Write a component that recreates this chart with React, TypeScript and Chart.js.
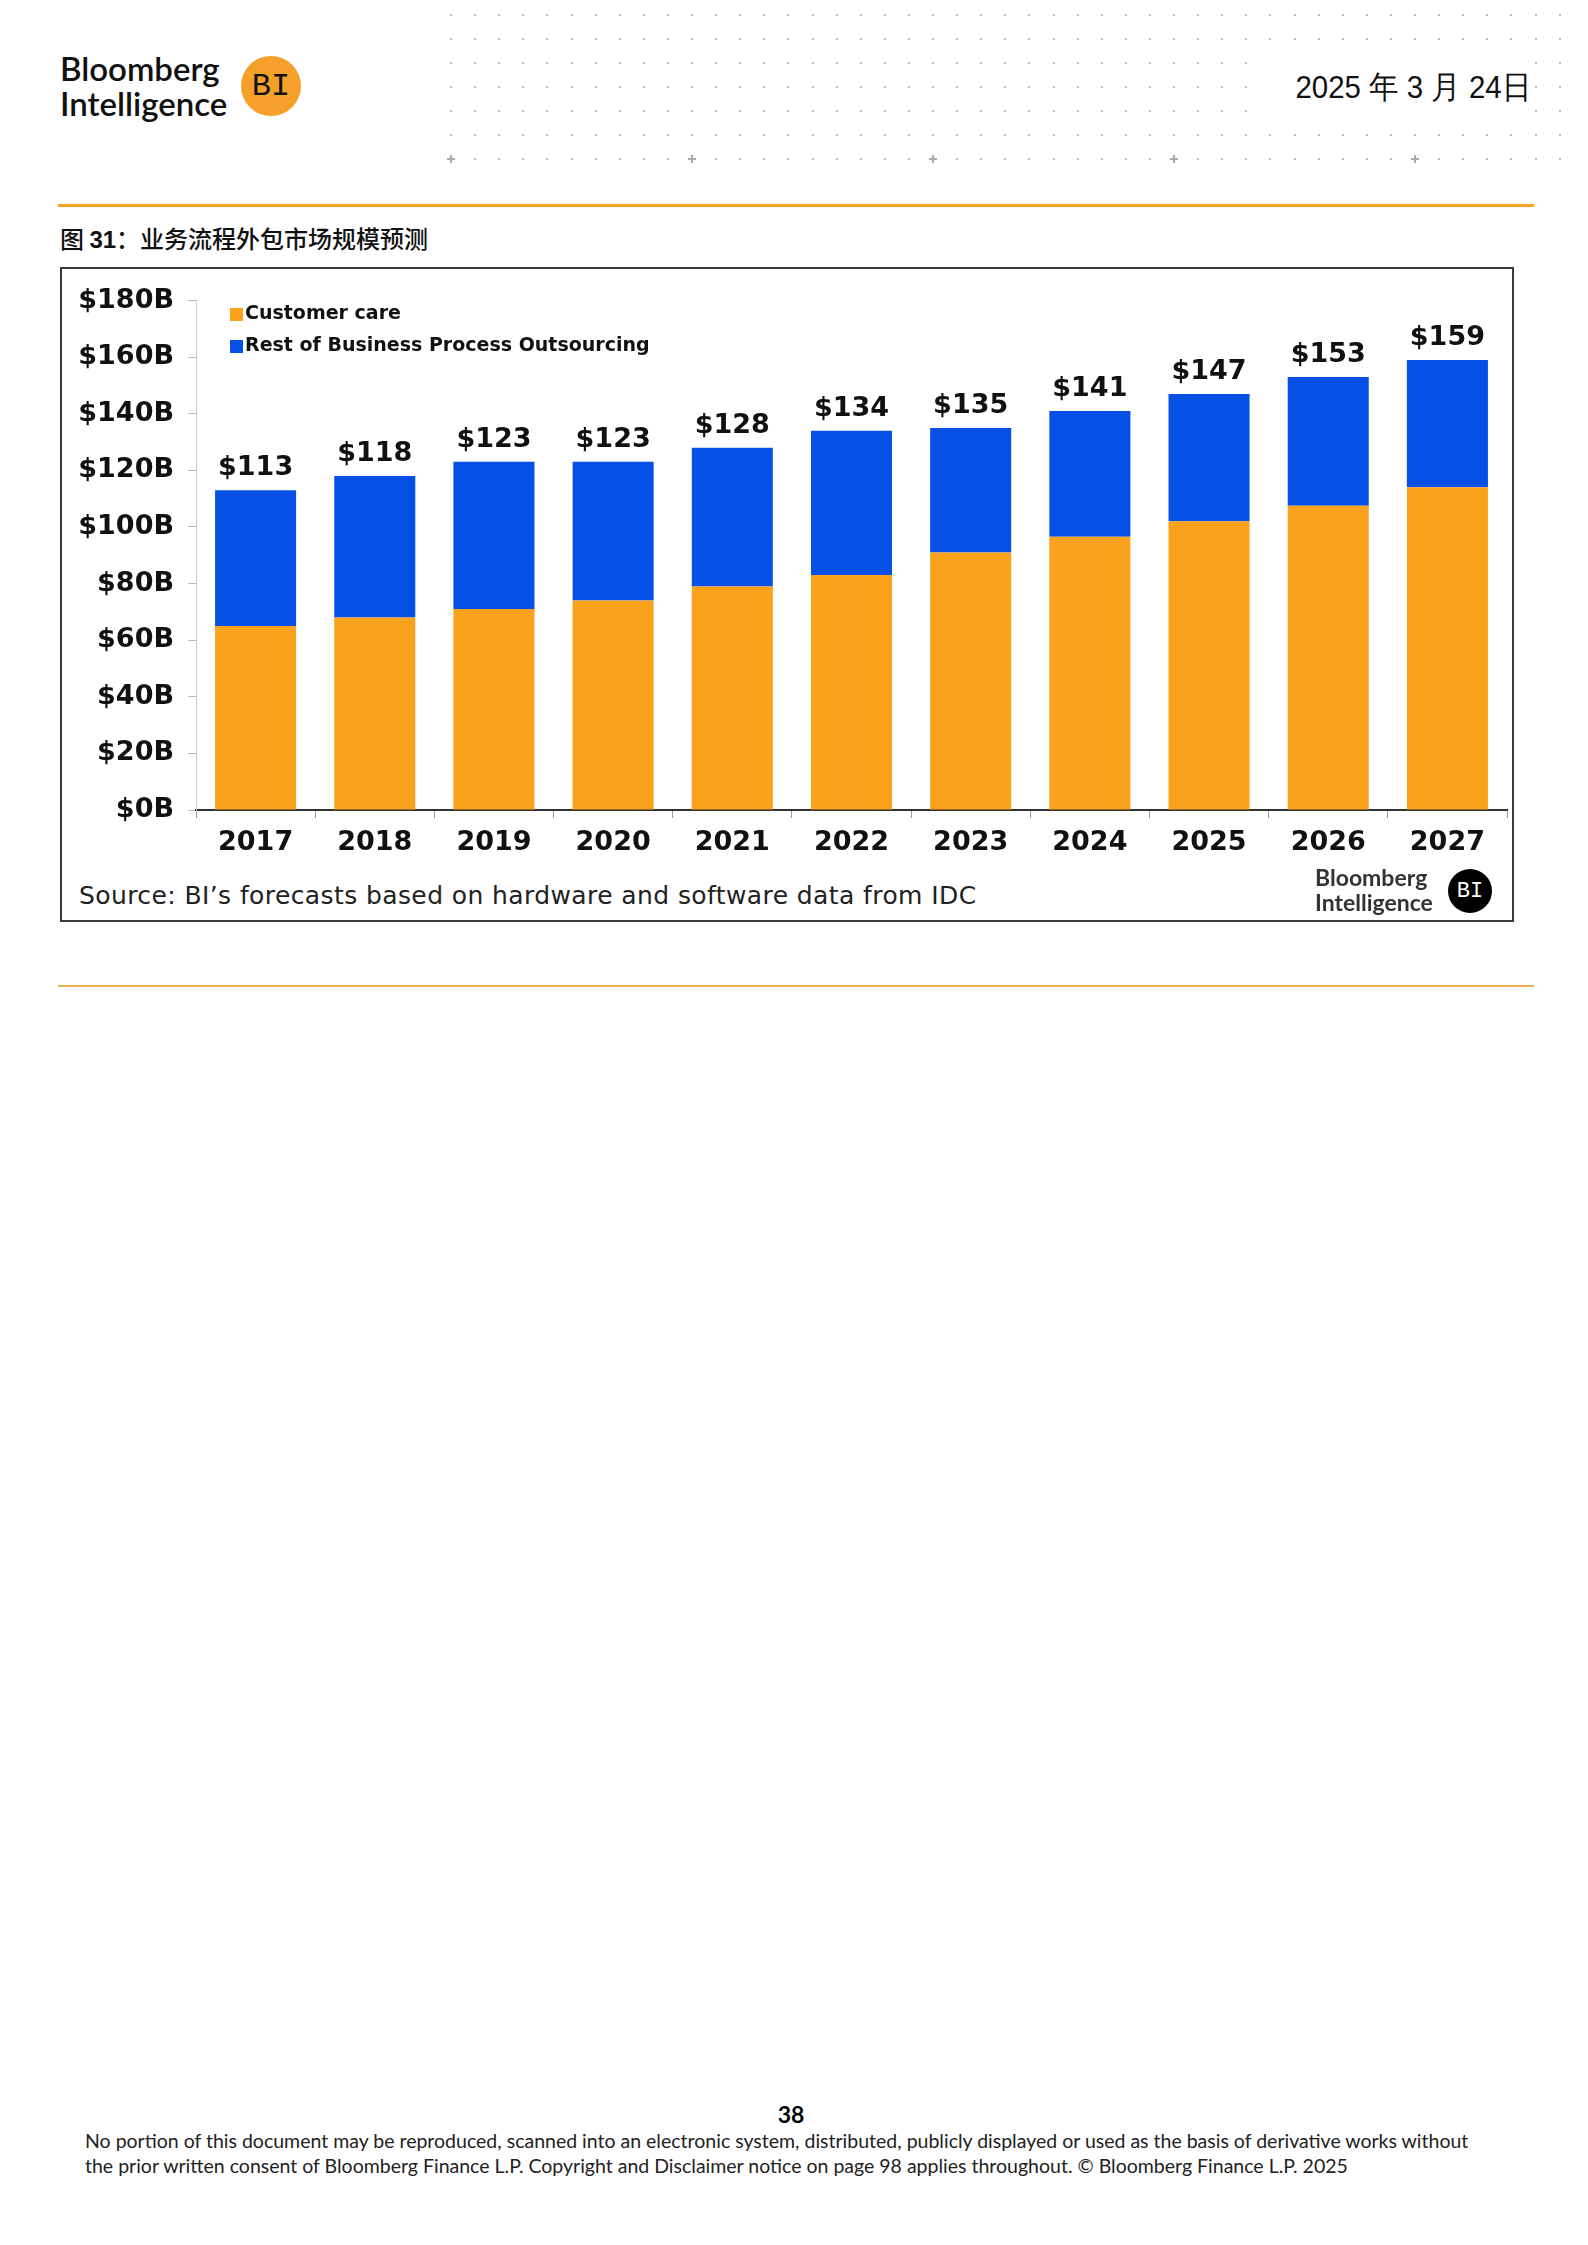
import React, { useEffect, useRef } from 'react';
import { Chart, registerables } from 'chart.js';

Chart.register(...registerables);

// chart data (US$ billions)
const years = ['2017', '2018', '2019', '2020', '2021', '2022', '2023', '2024', '2025', '2026', '2027'];
const customerCare = [65, 68, 71, 74, 79, 83, 91, 96.5, 102, 107.5, 114];
const restOfBpo = [48, 50, 52, 49, 49, 51, 44, 44.5, 45, 45.5, 45];
const seriesNames = ['Customer care', 'Rest of Business Process Outsourcing'];
const seriesColors = ['#FBA21C', '#0650E6'];
const yMax = 180;
const yStep = 20;

const CHART_FONT = '"DejaVu Sans", Verdana, sans-serif';

// total above each stacked bar
const totalsPlugin = {
  id: 'totals',
  afterDatasetsDraw(chart: any) {
    const { ctx } = chart;
    const sets = chart.data.datasets;
    const topMeta = chart.getDatasetMeta(sets.length - 1);
    ctx.save();
    ctx.font = `bold 27px ${CHART_FONT}`;
    ctx.fillStyle = '#111';
    ctx.textAlign = 'center';
    ctx.textBaseline = 'alphabetic';
    topMeta.data.forEach((bar: any, i: number) => {
      const total = sets.reduce((s: number, d: any) => s + Number(d.data[i]), 0);
      ctx.fillText('$' + Math.round(total), bar.x, bar.y - 15);
    });
    ctx.restore();
  },
};

// legend drawn inside the plot, top left
const insideLegend = {
  id: 'insideLegend',
  afterDraw(chart: any) {
    const { ctx, chartArea } = chart;
    const x = chartArea.left + 34;
    let y = chartArea.top + 14;
    ctx.save();
    ctx.font = `bold 19px ${CHART_FONT}`;
    ctx.textBaseline = 'middle';
    ctx.textAlign = 'left';
    chart.data.datasets.forEach((d: any) => {
      ctx.fillStyle = d.backgroundColor;
      ctx.fillRect(x, y - 6.5, 13, 13);
      ctx.fillStyle = '#111';
      ctx.fillText(d.label, x + 15, y);
      y += 32;
    });
    ctx.restore();
  },
};

const BpoChart: React.FC = () => {
  const canvasRef = useRef<HTMLCanvasElement>(null);

  useEffect(() => {
    if (!canvasRef.current) return;
    const chart = new Chart(canvasRef.current, {
      type: 'bar',
      data: {
        labels: years,
        datasets: [
          { label: seriesNames[0], data: customerCare, backgroundColor: seriesColors[0], borderWidth: 0 },
          { label: seriesNames[1], data: restOfBpo, backgroundColor: seriesColors[1], borderWidth: 0 },
        ],
      },
      options: {
        animation: false,
        responsive: true,
        maintainAspectRatio: false,
        events: [],
        layout: { padding: { top: 31.5, right: 5, left: 0, bottom: 0 } },
        datasets: { bar: { categoryPercentage: 1, barPercentage: 0.68 } },
        plugins: { legend: { display: false }, tooltip: { enabled: false } },
        scales: {
          x: {
            stacked: true,
            grid: { offset: true, drawOnChartArea: false, tickLength: 8, color: '#999' },
            border: { color: '#333', width: 2 },
            ticks: { color: '#111', padding: 9, font: { family: CHART_FONT, size: 27, weight: 'bold' } },
            afterFit: (s: any) => { s.height = 59; },
          },
          y: {
            stacked: true,
            min: 0,
            max: yMax,
            grid: { drawOnChartArea: false, tickLength: 8, color: '#bbb' },
            border: { color: '#ccc', width: 1 },
            ticks: {
              stepSize: yStep,
              color: '#111',
              padding: 14,
              font: { family: CHART_FONT, size: 27, weight: 'bold' },
              callback: (v: any) => '$' + v + 'B',
            },
            afterFit: (s: any) => { s.width = 134; },
          },
        },
      },
      plugins: [totalsPlugin, insideLegend],
    } as any);
    return () => chart.destroy();
  }, []);

  return <canvas ref={canvasRef}></canvas>;
};

const DotGrid: React.FC = () => {
  const dots: React.ReactNode[] = [];
  for (let r = 0; r < 7; r++) {
    for (let c = 0; c < 47; c++) {
      if (r >= 2 && r <= 4 && c >= 34 && c <= 44) continue; // space for the date
      const x = 451 + c * 24.1;
      const y = 15 + r * 24;
      if (r === 6 && c % 10 === 0) {
        dots.push(
          <div key={`${r}-${c}`} style={{ position: 'absolute', left: x - 4, top: y - 4, width: 8, height: 8 }}>
            <div style={{ position: 'absolute', left: 3, top: 0, width: 2, height: 8, background: '#aaa' }} />
            <div style={{ position: 'absolute', left: 0, top: 3, width: 8, height: 2, background: '#aaa' }} />
          </div>
        );
      } else {
        dots.push(
          <div key={`${r}-${c}`} style={{ position: 'absolute', left: x - 1, top: y - 1, width: 2, height: 2, background: '#bdbdbd' }} />
        );
      }
    }
  }
  return <>{dots}</>;
};

const abs = (o: React.CSSProperties): React.CSSProperties => ({ position: 'absolute', ...o });

export default function App() {
  return (
    <div style={abs({ left: 0, top: 0, width: 1588, height: 2245, background: '#fff', overflow: 'hidden' })}>
      <DotGrid />

      {/* header logo */}
      <div style={abs({ left: 60, top: 51, fontFamily: 'Lato, sans-serif', fontWeight: 600, fontSize: 33, lineHeight: '35px', color: '#111' })}>
        Bloomberg<br />Intelligence
      </div>
      <div style={abs({ left: 241, top: 56, width: 60, height: 60, borderRadius: '50%', background: '#F5A02A',
        display: 'flex', alignItems: 'center', justifyContent: 'center', fontFamily: '"Liberation Mono", monospace', fontSize: 32, color: '#111' })}>
        BI
      </div>

      {/* date */}
      <div style={abs({ right: 1588 - 1531, top: 71, fontFamily: '"Liberation Sans", Arial, sans-serif', fontSize: 32, lineHeight: '32px',
        color: '#111', whiteSpace: 'nowrap', transform: 'scaleX(0.92)', transformOrigin: 'right center' })}>
        2025 年 3 月 24日
      </div>

      <div style={abs({ left: 58, top: 204, width: 1476, height: 3, background: '#F5A623' })} />

      <div style={abs({ left: 60, top: 226, fontFamily: '"Noto Sans CJK SC", sans-serif', fontWeight: 500, fontSize: 24, lineHeight: '24px', color: '#111', whiteSpace: 'nowrap' })}>
        图 <span style={{ fontFamily: '"Liberation Sans", Arial, sans-serif', fontWeight: 700 }}>31</span>：业务流程外包市场规模预测
      </div>

      {/* chart frame */}
      <div style={abs({ left: 60, top: 267, width: 1454, height: 655, border: '2px solid #3a3a3a', boxSizing: 'border-box' })} />
      <div style={abs({ left: 62, top: 269, width: 1450, height: 600 })}>
        <BpoChart />
      </div>
      <div style={abs({ left: 79, top: 881, fontFamily: '"DejaVu Sans", sans-serif',
        fontSize: 25, lineHeight: '30px', letterSpacing: 0.4, color: '#222', whiteSpace: 'nowrap' })}>
        Source: BI’s forecasts based on hardware and software data from IDC
      </div>
      <div style={abs({ left: 1315, top: 865, fontFamily: 'Lato, sans-serif', fontWeight: 700, fontSize: 23, lineHeight: '25px', color: '#333' })}>
        Bloomberg<br />Intelligence
      </div>
      <div style={abs({ left: 1448, top: 869, width: 44, height: 44, borderRadius: '50%', background: '#000',
        display: 'flex', alignItems: 'center', justifyContent: 'center', fontFamily: '"Liberation Mono", monospace', fontSize: 22, color: '#fff' })}>
        BI
      </div>

      <div style={abs({ left: 58, top: 985, width: 1476, height: 2, background: '#E9AE55' })} />

      {/* footer */}
      <div style={abs({ left: 741, width: 100, top: 2103, textAlign: 'center', fontFamily: 'Lato, sans-serif', fontWeight: 700, fontSize: 23, lineHeight: '23px', color: '#000' })}>
        38
      </div>
      <div style={abs({ left: 85, top: 2128, width: 1480, fontFamily: 'Lato, sans-serif', fontSize: 19.5, lineHeight: '25px', color: '#222', whiteSpace: 'nowrap' })}>
        No portion of this document may be reproduced, scanned into an electronic system, distributed, publicly displayed or used as the basis of derivative works without<br />
        the prior written consent of Bloomberg Finance L.P. Copyright and Disclaimer notice on page 98 applies throughout. © Bloomberg Finance L.P. 2025
      </div>
    </div>
  );
}
